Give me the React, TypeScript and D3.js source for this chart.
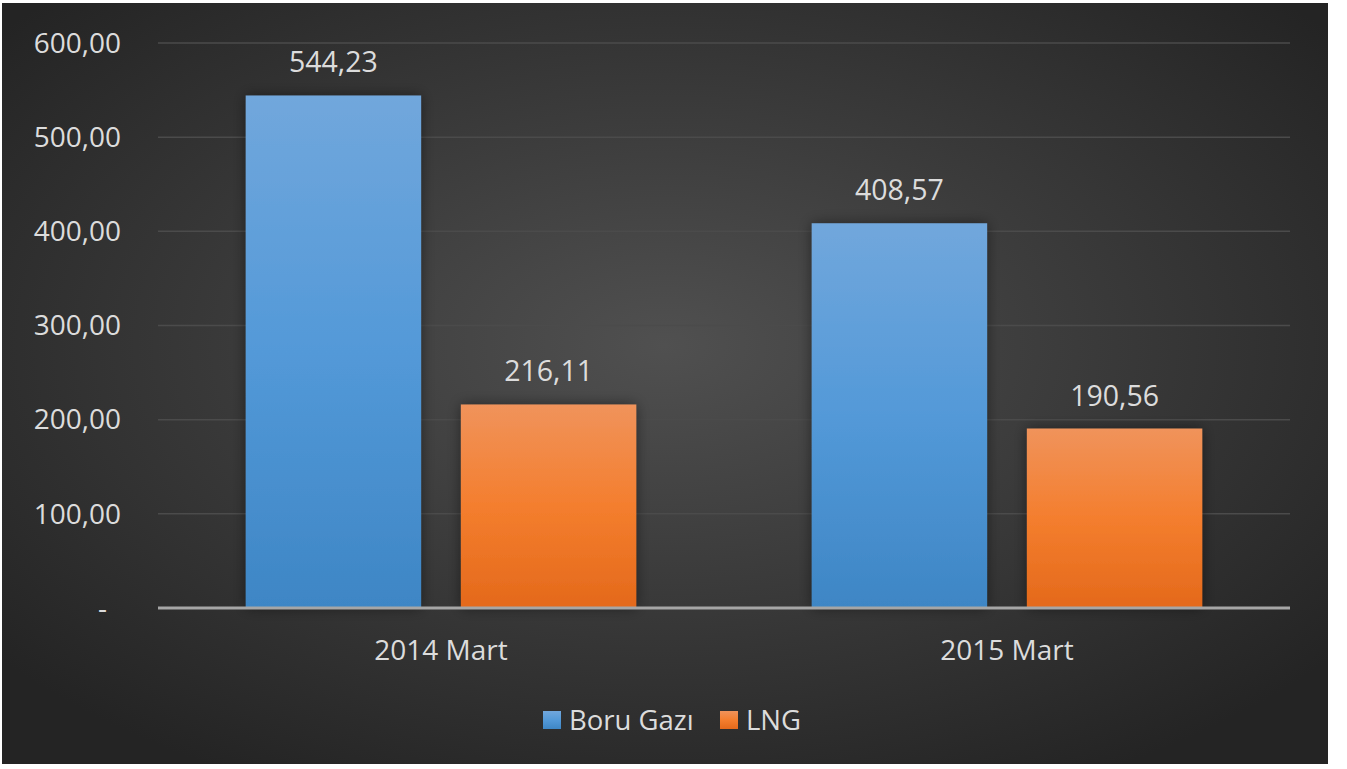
import React from "react";
import * as d3 from "d3";

const categories = ["2014 Mart", "2015 Mart"];
const seriesNames = ["Boru Gazı", "LNG"];
const boruGazi = [544.23, 408.57];
const lng = [216.11, 190.56];
const yTicks = [0, 100, 200, 300, 400, 500, 600];

const W = 1347;
const H = 769;
const plot = { left: 158, right: 1290, top: 43, bottom: 608 };

const fmt = (v: number) => (v === 0 ? "-" : v.toFixed(2).replace(".", ","));

export default function App() {
  const x0 = d3
    .scaleBand<string>()
    .domain(categories)
    .range([plot.left, plot.right])
    .paddingInner(0.31)
    .paddingOuter(0.155);
  const x1 = d3
    .scaleBand<string>()
    .domain(seriesNames)
    .range([0, x0.bandwidth()])
    .paddingInner(0.185);
  const y = d3.scaleLinear().domain([0, 600]).range([plot.bottom, plot.top]);

  const series = [
    { name: seriesNames[0], values: boruGazi, grad: "gBlue" },
    { name: seriesNames[1], values: lng, grad: "gOrange" },
  ];
  const font = "'Open Sans', 'Noto Sans', sans-serif";
  const textColor = "#dcdcdc";
  const fs = 28;

  return (
    <svg
      width={W}
      height={H}
      style={{ position: "absolute", left: 0, top: 0, background: "#fff" }}
      fontFamily={font}
    >
      <defs>
        <radialGradient id="bg" cx="50%" cy="45%" r="65%">
          <stop offset="0%" stopColor="#505050" />
          <stop offset="100%" stopColor="#242424" />
        </radialGradient>
        <linearGradient id="gBlue" x1="0" y1="0" x2="0" y2="1">
          <stop offset="0%" stopColor="#71a7dc" />
          <stop offset="50%" stopColor="#5399d8" />
          <stop offset="100%" stopColor="#3e86c5" />
        </linearGradient>
        <linearGradient id="gOrange" x1="0" y1="0" x2="0" y2="1">
          <stop offset="0%" stopColor="#f0935b" />
          <stop offset="50%" stopColor="#f47e2e" />
          <stop offset="100%" stopColor="#e4691b" />
        </linearGradient>
        <filter id="shadow" x="-20%" y="-20%" width="140%" height="140%">
          <feDropShadow dx="0" dy="0" stdDeviation="7" floodColor="#000" floodOpacity="0.45" />
        </filter>
      </defs>
      <rect x={2} y={3} width={1326} height={761} fill="url(#bg)" />

      {yTicks.map((t) =>
        t === 0 ? null : (
          <line
            key={"g" + t}
            x1={plot.left}
            x2={plot.right}
            y1={y(t)}
            y2={y(t)}
            stroke="#4b4b4b"
            strokeWidth={1.5}
          />
        )
      )}
      {yTicks.map((t) => (
        <text
          key={"t" + t}
          x={t === 0 ? 107 : 121}
          y={y(t)}
          dy="0.35em"
          textAnchor="end"
          fontSize={fs}
          fill={textColor}
        >
          {fmt(t)}
        </text>
      ))}

      {series.map((s) =>
        categories.map((c, i) => {
          const bx = (x0(c) as number) + (x1(s.name) as number);
          const by = y(s.values[i]);
          return (
            <g key={s.name + c}>
              <rect
                x={bx}
                y={by}
                width={x1.bandwidth()}
                height={plot.bottom - by}
                fill={`url(#${s.grad})`}
                filter="url(#shadow)"
              />
              <text
                x={bx + x1.bandwidth() / 2}
                y={by - 33}
                dy="0.35em"
                textAnchor="middle"
                fontSize={fs + 0.5}
                fill={textColor}
              >
                {fmt(s.values[i])}
              </text>
            </g>
          );
        })
      )}

      <line
        x1={plot.left}
        x2={plot.right}
        y1={plot.bottom}
        y2={plot.bottom}
        stroke="#a6a6a6"
        strokeWidth={3}
      />

      {categories.map((c) => (
        <text
          key={c}
          x={(x0(c) as number) + x0.bandwidth() / 2}
          y={650}
          dy="0.35em"
          textAnchor="middle"
          fontSize={fs}
          fill={textColor}
        >
          {c}
        </text>
      ))}

      <g>
        <rect x={543} y={711} width={18} height={18} fill="url(#gBlue)" />
        <text x={569} y={720} dy="0.35em" fontSize={fs - 0.5} fill={textColor}>
          {seriesNames[0]}
        </text>
        <rect x={720} y={711} width={18} height={18} fill="url(#gOrange)" />
        <text x={746} y={720} dy="0.35em" fontSize={fs - 0.5} fill={textColor}>
          {seriesNames[1]}
        </text>
      </g>
    </svg>
  );
}
